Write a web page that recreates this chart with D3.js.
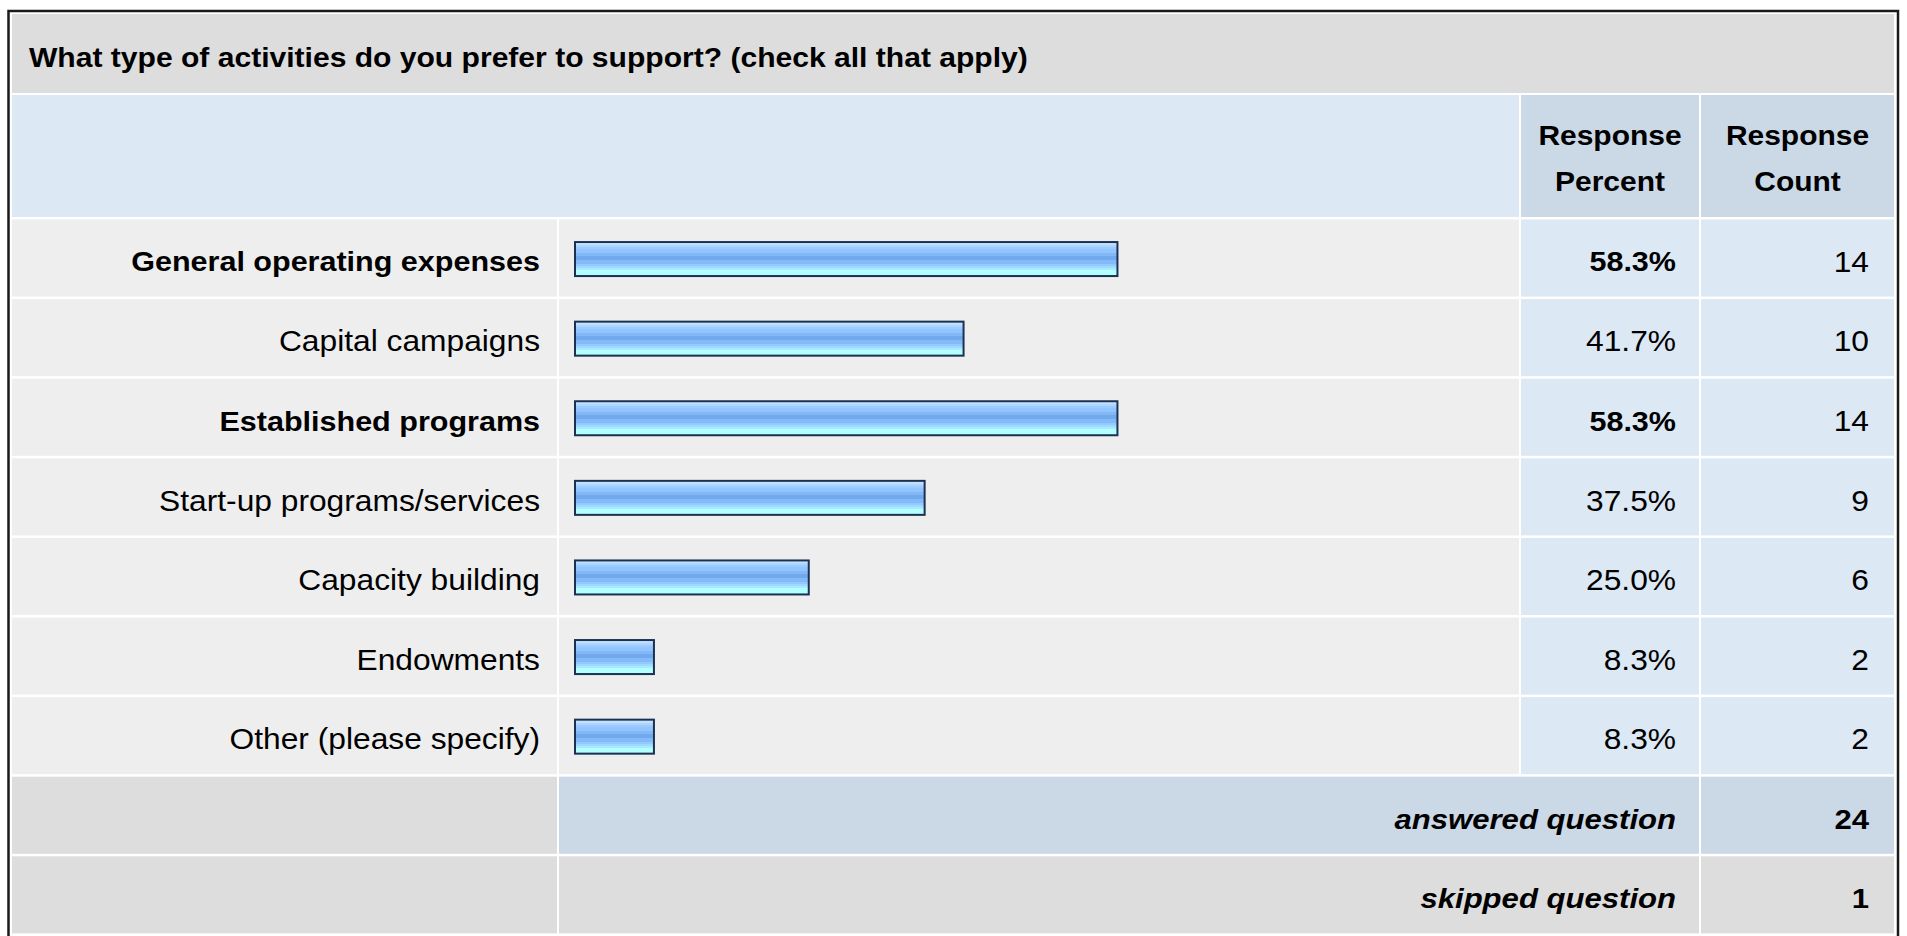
<!DOCTYPE html>
<html>
<head>
<meta charset="utf-8">
<script src="https://cdn.jsdelivr.net/npm/d3@7"></script>
<style>
  html, body { margin: 0; padding: 0; background: #ffffff; }
  svg { display: block; }
  text { font-family: "Liberation Sans", Arial, Helvetica, sans-serif; fill: #000; }
</style>
</head>
<body>
<svg id="chart" width="1907" height="936"></svg>
<script>
// Survey question and answer choices
const question = "What type of activities do you prefer to support? (check all that apply)";
const categories = [
  "General operating expenses",
  "Capital campaigns",
  "Established programs",
  "Start-up programs/services",
  "Capacity building",
  "Endowments",
  "Other (please specify)"
];
const responsePercent = [58.3, 41.7, 58.3, 37.5, 25.0, 8.3, 8.3];
const responseCount = [14, 10, 14, 9, 6, 2, 2];
const headerPercent = ["Response", "Percent"];
const headerCount = ["Response", "Count"];
const summaryLabels = ["answered question", "skipped question"];
const summaryCounts = [24, 1];

const svg = d3.select("#chart");
const SX = 1.11; // horizontal glyph stretch used by the table text

// Column edges of the table
const cols = {
  label: [12, 557],
  bar: [559, 1519],
  pct: [1521, 1699],
  cnt: [1701, 1894]
};

// Row layout: answer rows followed by the two summary rows
const rowKeys = categories.concat(summaryLabels);
const y = d3.scaleBand().domain(rowKeys).range([219.5, 219.5 + 79.6 * rowKeys.length]).paddingInner(0);
const rowH = y.bandwidth() - 2.5;
const textShift = 3.5;

// Bar length scale (percent of respondents)
const x = d3.scaleLinear().domain([0, 100]).range([574, 574 + 927]);

// Gradient fill of the bars (hard horizontal bands)
const bands = [
  [0, 2, "#c2e1ff"], [2, 4, "#acd5ff"], [4, 6, "#9ecbff"], [6, 10, "#92c5ff"],
  [10, 13, "#82b8f6"], [13, 17, "#72a9ee"], [17, 21, "#83bbf9"], [21, 23, "#92c9ff"],
  [23, 25, "#a0d9ff"], [25, 27, "#aae9ff"], [27, 32, "#b2ffff"]
];
const grad = svg.append("defs").append("linearGradient")
  .attr("id", "barGrad").attr("x1", 0).attr("y1", 0).attr("x2", 0).attr("y2", 1);
bands.forEach(([a, b, c]) => {
  grad.append("stop").attr("offset", a / 32).attr("stop-color", c);
  grad.append("stop").attr("offset", b / 32).attr("stop-color", c);
});

function cell(x0, x1, y0, h, fill) {
  svg.append("rect").attr("x", x0).attr("y", y0).attr("width", x1 - x0).attr("height", h).attr("fill", fill);
}

function label(txt, tx, ty, opts = {}) {
  svg.append("text")
    .attr("transform", `translate(${tx},${ty}) scale(${SX},1)`)
    .attr("text-anchor", opts.anchor || "start")
    .attr("dy", "0.355em")
    .attr("font-size", opts.size || (opts.bold ? 27.5 : 28.6))
    .attr("font-weight", opts.bold ? "bold" : "normal")
    .attr("font-style", opts.italic ? "italic" : "normal")
    .text(txt);
}

// Outer frame
svg.append("rect").attr("x", 8.5).attr("y", 11).attr("width", 1889.5).attr("height", 940)
  .attr("fill", "none").attr("stroke", "#1a1a1a").attr("stroke-width", 2.5);

// Title row
cell(cols.label[0], cols.cnt[1], 14, 79, "#dddddd");
label(question, 29, 57, { size: 27.1, bold: true });

// Header row
cell(cols.label[0], cols.bar[1], 95, 122, "#dde8f5");
cell(cols.pct[0], cols.pct[1], 95, 122, "#cbd8e6");
cell(cols.cnt[0], cols.cnt[1], 95, 122, "#cbd8e6");
headerPercent.forEach((t, i) => label(t, (cols.pct[0] + cols.pct[1]) / 2, 135 + i * 46, { size: 27, bold: true, anchor: "middle" }));
headerCount.forEach((t, i) => label(t, (cols.cnt[0] + cols.cnt[1]) / 2, 135 + i * 46, { size: 27, bold: true, anchor: "middle" }));

// Answer rows
const maxPct = d3.max(responsePercent);
categories.forEach((c) => {
  const y0 = y(c);
  cell(cols.label[0], cols.label[1], y0, rowH, "#eeeeee");
  cell(cols.bar[0], cols.bar[1], y0, rowH, "#eeeeee");
  cell(cols.pct[0], cols.pct[1], y0, rowH, "#dde8f5");
  cell(cols.cnt[0], cols.cnt[1], y0, rowH, "#dde8f5");
});

const rows = categories.map((c, i) => ({ c, p: responsePercent[i], n: responseCount[i] }));
const barH = 36;
const barTop = d => y(d.c) + rowH / 2 - barH / 2 + 1;

svg.append("g").selectAll("rect").data(rows).join("rect")
  .attr("x", x(0))
  .attr("y", barTop)
  .attr("width", d => x(d.p) - x(0) + 4)
  .attr("height", barH)
  .attr("fill", "#1b3052");

svg.append("g").selectAll("rect").data(rows).join("rect")
  .attr("x", x(0) + 2)
  .attr("y", d => barTop(d) + 2)
  .attr("width", d => x(d.p) - x(0))
  .attr("height", barH - 4)
  .attr("fill", "url(#barGrad)");

rows.forEach(d => {
  const cy = y(d.c) + rowH / 2 + textShift;
  const top = d.p === maxPct;
  label(d.c, 540, cy, { anchor: "end", bold: top });
  label(d.p.toFixed(1) + "%", 1676, cy, { anchor: "end", bold: top });
  label(String(d.n), 1869, cy, { anchor: "end" });
});

// Summary rows
summaryLabels.forEach((s, i) => {
  const y0 = y(s);
  const midFill = i === 0 ? "#cbd8e6" : "#dddddd";
  cell(cols.label[0], cols.label[1], y0, rowH, "#dddddd");
  cell(cols.bar[0], cols.pct[1], y0, rowH, midFill);
  cell(cols.cnt[0], cols.cnt[1], y0, rowH, midFill);
  const cy = y0 + rowH / 2 + textShift;
  label(s, 1676, cy, { anchor: "end", bold: true, italic: true, size: 28 });
  label(String(summaryCounts[i]), 1869, cy, { anchor: "end", bold: true, size: 28 });
});
</script>
</body>
</html>
